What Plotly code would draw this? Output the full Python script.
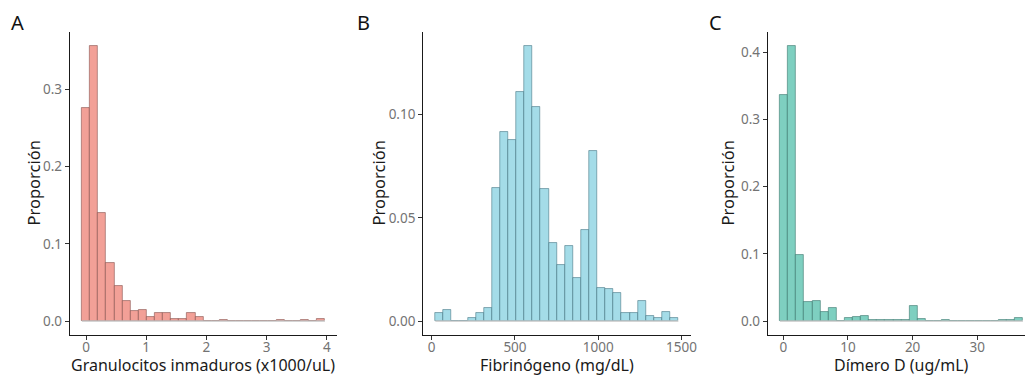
import numpy as np
import plotly.graph_objects as go

# ---------------- data (proportion per histogram bin, 30 bins each) ----------------
gi_min, gi_max = 0.0, 3.9          # Granulocitos inmaduros (x1000/uL)
gi_props = [0.275, 0.356, 0.140, 0.075, 0.046, 0.026, 0.013, 0.015, 0.0055, 0.011,
            0.011, 0.0025, 0.0025, 0.011, 0.006, 0, 0, 0.0022, 0, 0,
            0, 0, 0, 0, 0.0022, 0, 0, 0.0022, 0, 0.003]

fib_min, fib_max = 46.2, 1457.0    # Fibrinógeno (mg/dL)
fib_props = [0.0039, 0.0055, 0, 0, 0.0018, 0.0040, 0.0065, 0.0645, 0.0915, 0.0877,
             0.1110, 0.1334, 0.1039, 0.0642, 0.0377, 0.0274, 0.0363, 0.0210, 0.0444, 0.0824,
             0.0163, 0.0155, 0.0139, 0.0042, 0.0042, 0.0098, 0.0023, 0.0018, 0.0045, 0.0016]

dd_min, dd_max = 0.11, 36.44       # Dímero D (ug/mL)
dd_props = [0.3356, 0.4094, 0.0980, 0.0282, 0.0297, 0.0139, 0.0203, 0, 0.0054, 0.0069,
            0.0084, 0.0025, 0.0025, 0.0025, 0.0025, 0.0025, 0.0228, 0.0040, 0, 0,
            0.0025, 0, 0, 0, 0, 0, 0, 0.0025, 0.0025, 0.0050]

letters = ["A", "B", "C"]
x_titles = ["Granulocitos inmaduros (x1000/uL)", "Fibrinógeno (mg/dL)", "Dímero D (ug/mL)"]
y_title = "Proporción"
x_ticks = [[0, 1, 2, 3, 4], [0, 500, 1000, 1500], [0, 10, 20, 30]]
y_ticks = [[0, 0.1, 0.2, 0.3], [0, 0.05, 0.10], [0, 0.1, 0.2, 0.3, 0.4]]
y_fmt = [".1f", ".2f", ".1f"]

fills = ["#F2A097", "#A4DCE8", "#7ECFC0"]
edges = ["rgba(110,60,55,0.55)", "rgba(45,95,110,0.55)", "rgba(35,95,85,0.55)"]

# ---------------- layout geometry ----------------
W, H = 1025, 376
panel_left = [69.8, 423.2, 767.8]
panel_w = 267.3
top_m, bot_m = 32, 41
ytitle_px = [33, 378, 727]
letter_px = [9, 355, 707]

panels = [(gi_min, gi_max, gi_props), (fib_min, fib_max, fib_props), (dd_min, dd_max, dd_props)]


def py(ypx):
    return (H - bot_m - ypx) / (H - top_m - bot_m)


fig = go.Figure()
layout = dict(
    width=W, height=H,
    margin=dict(l=0, r=0, t=top_m, b=bot_m, autoexpand=False),
    paper_bgcolor="white", plot_bgcolor="white",
    showlegend=False, barmode="overlay", bargap=0,
    font=dict(family="Noto Sans, Open Sans, sans-serif", color="#1a1a1a"),
)
annotations = []

for i, (mn, mx, props) in enumerate(panels):
    n = len(props)
    w = (mx - mn) / (n - 1)
    centers = mn + w * np.arange(n)
    lo, hi = mn - w / 2, mx + w / 2
    span = hi - lo
    r0, r1 = lo - 0.05 * span, hi + 0.05 * span
    x0px = panel_left[i]
    x1px = x0px + panel_w
    full_w = panel_w
    if x1px > W:
        r1 = r0 + (r1 - r0) * (W - x0px) / panel_w
        x1px = W
    ymax = max(props)
    yr = [-0.05 * ymax, 1.05 * ymax]

    sfx = "" if i == 0 else str(i + 1)
    xa, ya = "x" + sfx, "y" + sfx

    # baseline drawn by zero-height bins
    fig.add_trace(go.Scatter(x=[lo, hi], y=[0, 0], mode="lines",
                             line=dict(color="#D4D4D4", width=1.3),
                             xaxis=xa, yaxis=ya, hoverinfo="skip"))
    fig.add_trace(go.Bar(x=centers, y=props, width=w,
                         marker=dict(color=fills[i], line=dict(color=edges[i], width=0.9)),
                         xaxis=xa, yaxis=ya))

    axis_common = dict(showline=True, linecolor="#1a1a1a", linewidth=1.1,
                       ticks="outside", ticklen=4, tickwidth=1.1, tickcolor="#333333",
                       showgrid=False, zeroline=False, automargin=False,
                       tickfont=dict(size=13.5, color="#737373"))
    layout["xaxis" + sfx] = dict(axis_common, domain=[x0px / W, x1px / W], range=[r0, r1],
                                 anchor=ya, tickvals=x_ticks[i], ticklabelstandoff=-4)
    layout["yaxis" + sfx] = dict(axis_common, domain=[0, 1], range=yr, anchor=xa,
                                 tickvals=y_ticks[i], tickformat=y_fmt[i])
    # x title (centred on the full panel width)
    annotations.append(dict(text=x_titles[i], x=(x0px + full_w / 2) / W, y=py(365),
                            xref="paper", yref="paper", showarrow=False, borderpad=0,
                            font=dict(size=16, color="#1a1a1a"),
                            xanchor="center", yanchor="middle"))
    annotations.append(dict(text=y_title, x=ytitle_px[i] / W, y=py(183.5), textangle=-90,
                            xref="paper", yref="paper", showarrow=False,
                            font=dict(size=16.5, color="#1a1a1a"),
                            xanchor="center", yanchor="middle"))
    annotations.append(dict(text=letters[i], x=letter_px[i] / W, y=py(22),
                            xref="paper", yref="paper", showarrow=False,
                            font=dict(size=20, color="#111111"),
                            xanchor="left", yanchor="middle"))

layout["annotations"] = annotations
fig.update_layout(**layout)
fig.write_html("out.html", config={"displayModeBar": False},
               post_script="document.body.style.margin='0';document.body.style.overflow='hidden';")
